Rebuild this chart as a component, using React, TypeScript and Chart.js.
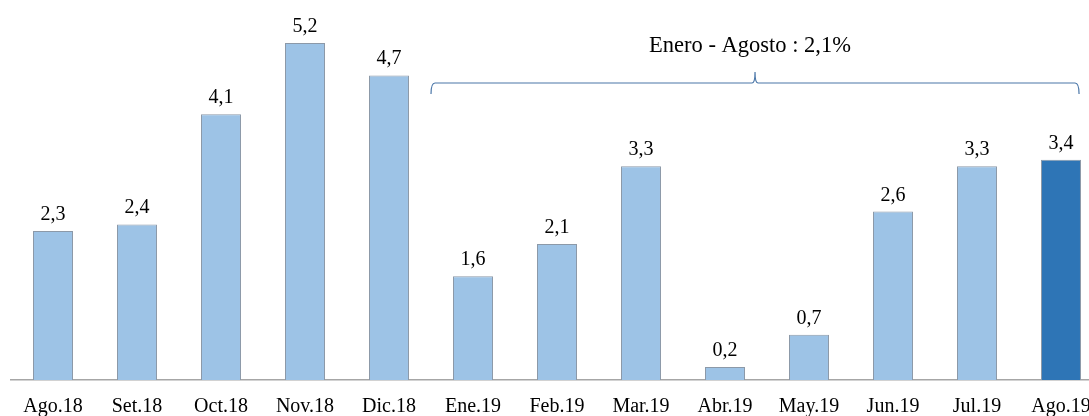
import React, { useEffect, useRef } from "react";
import { Chart, registerables } from "chart.js";

Chart.register(...registerables);

const categories = ["Ago.18", "Set.18", "Oct.18", "Nov.18", "Dic.18", "Ene.19", "Feb.19", "Mar.19", "Abr.19", "May.19", "Jun.19", "Jul.19", "Ago.19"];
const values = [2.3, 2.4, 4.1, 5.2, 4.7, 1.6, 2.1, 3.3, 0.2, 0.7, 2.6, 3.3, 3.4];
const highlightIndex = 12;
const braceStart = 5;
const braceEnd = 12;
const braceLabel = "Enero - Agosto : 2,1%";

const FONT = "'Liberation Serif', 'Times New Roman', serif";

const fmt = (v: number) => v.toFixed(1).replace(".", ",");

const labelsPlugin = {
  id: "valueLabels",
  afterDatasetsDraw(chart: any) {
    const ctx = chart.ctx;
    const meta = chart.getDatasetMeta(0);
    ctx.save();
    ctx.font = `20px ${FONT}`;
    ctx.fillStyle = "#000000";
    ctx.textAlign = "center";
    ctx.textBaseline = "alphabetic";
    meta.data.forEach((bar: any, i: number) => {
      ctx.fillText(fmt(values[i]), bar.x, bar.y - 11);
    });
    ctx.restore();
  },
};

const bracePlugin = {
  id: "brace",
  afterDraw(chart: any) {
    const ctx = chart.ctx;
    const xs = chart.scales.x;
    const step = xs.getPixelForValue(1) - xs.getPixelForValue(0);
    const left = xs.getPixelForValue(braceStart) - step / 2;
    const right = xs.getPixelForValue(braceEnd) + step * 0.215;
    const mid = (left + right) / 2;
    const yLine = 83;
    ctx.save();
    ctx.strokeStyle = "#4a76a8";
    ctx.lineWidth = 1.2;
    ctx.beginPath();
    ctx.moveTo(left, yLine + 11);
    ctx.quadraticCurveTo(left, yLine, left + 4, yLine);
    ctx.lineTo(mid - 3, yLine);
    ctx.quadraticCurveTo(mid, yLine, mid, yLine - 11);
    ctx.quadraticCurveTo(mid, yLine, mid + 3, yLine);
    ctx.lineTo(right - 4, yLine);
    ctx.quadraticCurveTo(right, yLine, right, yLine + 11);
    ctx.stroke();
    ctx.font = `22.5px ${FONT}`;
    ctx.fillStyle = "#000000";
    ctx.textAlign = "center";
    ctx.textBaseline = "alphabetic";
    ctx.fillText(braceLabel, mid - 5, 52);
    ctx.restore();
  },
};

export default function App() {
  const ref = useRef<HTMLCanvasElement | null>(null);
  useEffect(() => {
    if (!ref.current) return;
    const chart = new Chart(ref.current, {
      type: "bar",
      data: {
        labels: categories,
        datasets: [
          {
            data: values,
            backgroundColor: values.map((_, i) => (i === highlightIndex ? "#2e75b6" : "#9dc3e6")),
            borderColor: "#8c99a8",
            borderWidth: 1,
            categoryPercentage: 1,
            barPercentage: 0.476,
          },
        ],
      },
      options: {
        animation: false,
        responsive: false,
        events: [],
        layout: { padding: { left: 11, right: 7, top: 0, bottom: 0 } },
        plugins: { legend: { display: false }, tooltip: { enabled: false } },
        scales: {
          x: {
            grid: { display: false, drawTicks: false },
            border: { display: true, color: "#a6a6a6", width: 1.5 },
            ticks: { color: "#000000", font: { family: FONT, size: 20 }, padding: 15, maxRotation: 0, autoSkip: false },
            afterFit: (s: any) => {
              s.height = 36;
            },
          },
          y: { display: false, min: 0, max: 5.864 },
        },
      },
      plugins: [labelsPlugin, bracePlugin],
    });
    return () => chart.destroy();
  }, []);
  return (
    <div style={{ position: "fixed", left: 0, top: 0, width: 1089, height: 416, overflow: "hidden", background: "#fff" }}>
      <canvas ref={ref} width={1110} height={416} style={{ display: "block" }} />
    </div>
  );
}
